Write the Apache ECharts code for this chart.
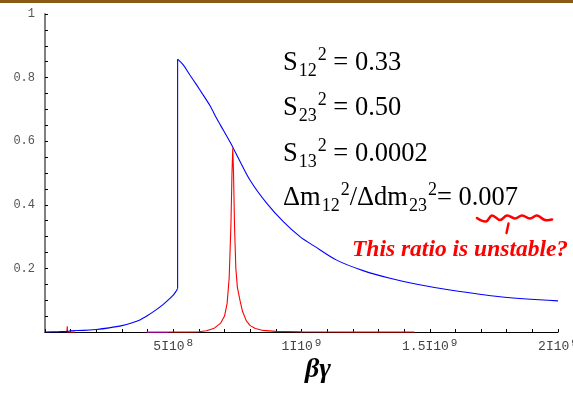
<!DOCTYPE html>
<html>
<head>
<meta charset="utf-8">
<script src="https://cdn.jsdelivr.net/npm/echarts@6/dist/echarts.min.js"></script>
<style>
html, body { margin: 0; padding: 0; background: #fff; }
#chart { width: 573px; height: 393px; }
</style>
</head>
<body>
<div id="chart"></div>
<script>
// Transition probability vs. boost factor (beta*gamma)
// Blue curve, slow rise up to the first resonance
const blueRiseX = [0, 0.5e8, 0.9e8, 1.0e8, 1.5e8, 2.0e8, 2.5e8, 3.0e8, 3.4e8, 3.7e8, 4.0e8, 4.3e8, 4.6e8, 4.85e8, 5.0e8, 5.1e8, 5.17e8];
const blueRiseY = [0, 0.001, 0.002, 0.004, 0.005, 0.008, 0.013, 0.020, 0.029, 0.038, 0.052, 0.068, 0.086, 0.104, 0.116, 0.127, 0.137];
// Blue curve, vertical jump at the resonance
const blueJumpX = [5.17e8, 5.17e8];
const blueJumpY = [0.137, 0.858];
// Blue curve, decay after the jump
const blueDecayX = [5.17e8, 5.39e8, 5.65e8, 5.91e8, 6.17e8, 6.43e8, 6.69e8, 6.95e8, 7.21e8, 7.5e8, 7.99e8, 8.64e8, 9.29e8, 9.94e8, 10.5e8,
  11.37e8, 12.4e8, 13.45e8, 14.5e8, 15.79e8, 17.74e8, 20e8];
const blueDecayY = [0.858, 0.840, 0.808, 0.777, 0.745, 0.712, 0.672, 0.635, 0.598, 0.553, 0.478, 0.405, 0.347, 0.300, 0.270,
  0.226, 0.193, 0.169, 0.150, 0.132, 0.111, 0.098];

// Red curve: narrow resonance peak
const redPeakX = [4.82e8, 5.5e8, 6.0e8, 6.3e8, 6.6e8, 6.85e8, 7.0e8, 7.1e8, 7.18e8, 7.25e8, 7.29e8, 7.32e8, 7.35e8, 7.39e8, 7.44e8,
  7.5e8, 7.6e8, 7.7e8, 7.85e8, 8.0e8, 8.2e8, 8.5e8, 9.0e8, 10e8, 12e8, 14.4e8];
const redPeakY = [0, 0, 0.001, 0.004, 0.012, 0.028, 0.05, 0.09, 0.17, 0.34, 0.50, 0.578, 0.50, 0.33, 0.20,
  0.14, 0.10, 0.065, 0.035, 0.02, 0.011, 0.005, 0.002, 0.001, 0, 0];
// Small red blip near the origin
const redBlipX = [0.85e8, 0.865e8, 0.87e8, 0.875e8, 1.17e8];
const redBlipY = [0, 0, 0.018, 0, 0];
// Magenta curve (flat along the axis)
const magX = [3.96e8, 4.81e8];
const magY = [0, 0];

// Axis labels
const xLabelAt = [5e8, 1e9, 1.5e9, 2e9];
const xLabelMant = ['5I10', '1I10', '1.5I10', '2I10'];
const xLabelExp = ['8', '9', '9', '9'];
const yLabelAt = [0.2, 0.4, 0.6, 0.8, 1];
const yLabelText = ['0.2', '0.4', '0.6', '0.8', '1'];

// Parameter annotations: [style, text] tokens per line
const paramLines = [
  [['n', 'S'], ['sub', '12'], ['sup', '2'], ['n', ' = 0.33']],
  [['n', 'S'], ['sub', '23'], ['sup', '2'], ['n', ' = 0.50']],
  [['n', 'S'], ['sub', '13'], ['sup', '2'], ['n', ' = 0.0002']],
  [['n', '\u0394m'], ['sub', '12'], ['sup', '2'], ['n', '/\u0394dm'], ['sub', '23'], ['sup', '2'], ['n', '= 0.007']]
];
const noteText = 'This ratio is unstable?';
const axisName = '\u03b2\u03b3';

const zip = (xs, ys) => xs.map((x, i) => [x, ys[i]]);

const chart = echarts.init(document.getElementById('chart'), null, { renderer: 'canvas' });

const serif = 'Liberation Serif';
const rich = {
  n: { fontFamily: serif, fontSize: 26.5, lineHeight: 34, verticalAlign: 'middle', fill: '#000' },
  sub: { fontFamily: serif, fontSize: 18, lineHeight: 16, verticalAlign: 'bottom', fill: '#000', padding: [0, 1, 0, 1] },
  sup: { fontFamily: serif, fontSize: 18, lineHeight: 18, verticalAlign: 'top', fill: '#000' }
};
const lineTops = [46, 91, 137, 181];

const graphics = [
  { type: 'rect', left: 0, top: 0, shape: { width: 573, height: 3 }, style: { fill: '#8a5a16' } }
];
paramLines.forEach((tokens, i) => {
  graphics.push({
    type: 'text', z: 10,
    style: {
      x: 283, y: lineTops[i], verticalAlign: 'top',
      text: tokens.map(t => '{' + t[0] + '|' + t[1] + '}').join(''),
      rich: rich
    }
  });
});
graphics.push({
  type: 'text', z: 10,
  style: {
    x: 352, y: 238, verticalAlign: 'top', text: noteText,
    fontFamily: serif, fontStyle: 'italic', fontWeight: 'bold', fontSize: 23.5, fill: '#ff0000'
  }
});
graphics.push({
  type: 'polyline', z: 10,
  shape: { points: [[477, 218], [486, 221.5], [492, 215.5], [500, 220], [507, 215.5], [515, 218.5], [522, 215.5], [530, 218.5], [537, 215.5], [545, 220], [552, 219.5]], smooth: 0.4 },
  style: { stroke: '#ff0000', lineWidth: 2.6, fill: null, lineCap: 'round' }
});
graphics.push({
  type: 'line', z: 10,
  shape: { x1: 508.5, y1: 223.5, x2: 506.5, y2: 233 },
  style: { stroke: '#ff0000', lineWidth: 2.4, lineCap: 'round' }
});
graphics.push({
  type: 'text', z: 10,
  style: {
    x: 305, y: 356, verticalAlign: 'top', text: axisName,
    fontFamily: serif, fontStyle: 'italic', fontWeight: 'bold', fontSize: 28, fill: '#000'
  }
});

const lineSeries = (data, color, z, smooth) => ({
  type: 'line', data: data, showSymbol: false, symbol: 'none', clip: false, z: z,
  smooth: smooth || false,
  lineStyle: { color: color, width: 1.1 }, itemStyle: { color: color }, animation: false
});

chart.setOption({
  animation: false,
  grid: { left: 45, right: 15, top: 14, bottom: 61, containLabel: false, outerBoundsMode: 'none' },
  xAxis: {
    type: 'value', min: 0, max: 2e9, interval: 1e8,
    axisLine: { show: true, lineStyle: { color: '#000', width: 1 } },
    axisTick: { show: true, inside: true, length: 3, lineStyle: { color: '#000', width: 1 } },
    splitLine: { show: false },
    axisLabel: {
      margin: 6, verticalAlign: 'top', hideOverlap: false,
      formatter: v => {
        const i = xLabelAt.findIndex(a => Math.abs(a - v) < 1);
        return i < 0 ? '' : '{m|' + xLabelMant[i] + '}{e|' + xLabelExp[i] + '}';
      },
      rich: {
        m: { fontFamily: 'Liberation Mono', fontSize: 13, color: '#444', lineHeight: 18, verticalAlign: 'middle' },
        e: { fontFamily: 'Liberation Mono', fontSize: 11, color: '#444', lineHeight: 8, verticalAlign: 'top', padding: [0, 0, 0, 2] }
      }
    }
  },
  yAxis: {
    type: 'value', min: 0, max: 1, interval: 0.05,
    axisLine: { show: true, lineStyle: { color: '#808080', width: 2 } },
    axisTick: { show: true, inside: true, length: 3, lineStyle: { color: '#000', width: 1 } },
    splitLine: { show: false },
    axisLabel: {
      margin: 10, fontFamily: 'Liberation Mono', fontSize: 12, color: '#555',
      formatter: v => {
        const i = yLabelAt.findIndex(a => Math.abs(a - v) < 1e-6);
        return i < 0 ? '' : yLabelText[i];
      }
    }
  },
  series: [
    lineSeries(zip(magX, magY), '#ff00ff', 3),
    lineSeries(zip(redBlipX, redBlipY), '#ff0000', 3),
    lineSeries(zip(blueRiseX, blueRiseY), '#0000ff', 4, 0.3),
    lineSeries(zip(blueJumpX, blueJumpY), '#0000ff', 4),
    lineSeries(zip(blueDecayX, blueDecayY), '#0000ff', 4, 0.3),
    lineSeries(zip(redPeakX, redPeakY), '#ff0000', 5)
  ],
  graphic: graphics
});
</script>
</body>
</html>
